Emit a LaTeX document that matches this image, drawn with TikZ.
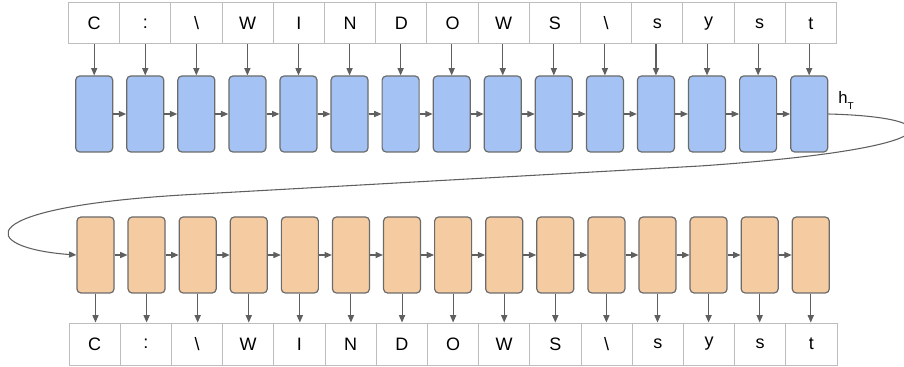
\documentclass[tikz,border=0pt]{standalone}
\usepackage{fontspec}
\setmainfont{Liberation Sans}
\usetikzlibrary{arrows.meta}
\definecolor{bluefill}{HTML}{A4C2F4}
\definecolor{orangefill}{HTML}{F5CCA2}
\definecolor{boxline}{HTML}{6B6B6B}
\definecolor{cellline}{HTML}{BDBDBD}
\definecolor{arrowcol}{HTML}{5F5F5F}
\tikzset{
  cell/.style={draw=cellline, line width=0.75pt, minimum width=38.4pt, minimum height=30.75pt, inner sep=0pt, font=\fontsize{13.5}{16}\selectfont},
  encbox/.style={draw=boxline, fill=bluefill, line width=0.9pt, rounded corners=3pt, minimum width=27.75pt, minimum height=57pt, inner sep=0pt},
  decbox/.style={encbox, fill=orangefill},
  arr/.style={draw=arrowcol, line width=0.8pt, -{Triangle[length=5.5pt,width=4.6pt]}, fill=arrowcol},
  conn/.style={draw=arrowcol, line width=0.8pt, -{Triangle[length=5.5pt,width=4.6pt,fill=arrowcol]}},
}
\begin{document}
\begin{tikzpicture}[x=0.75pt,y=-0.75pt]
\useasboundingbox (0,0) rectangle (904,367);
\foreach \c [count=\i] in {C,:,\textbackslash,W,I,N,D,O,W,S,\textbackslash,s,y,s,t}{
  \node[cell] (t\i) at ({42.9+51.2*\i},23.5) {\c};
  \node[cell, minimum height=31.5pt] (o\i) at ({43.4+51.2*\i},344) {\c};
  \node[encbox] (b\i) at ({43.13+51.07*\i},114) {};
  \node[decbox] (d\i) at ({44.41+51.09*\i},255) {};
  \draw[arr] (t\i.south -| b\i.north) -- (b\i.north);
  \draw[arr] (d\i.south) -- (d\i.south |- o\i.north);
}
\foreach \i [evaluate=\i as \j using {int(\i+1)}] in {1,...,14}{
  \draw[arr] (b\i.east) -- (b\j.west);
  \draw[arr] (d\i.east) -- (d\j.west);
}
\node[anchor=base west, inner sep=0pt, font=\fontsize{12.5}{14}\selectfont] (hT) at (838,104) {h\raisebox{-0.6ex}{\fontsize{7.5}{8}\selectfont T}};
\draw[conn] (b15.east) .. controls (950,117) and (960,148) .. (700,166)
  -- (200,194) .. controls (-36,206) and (-22,248) .. (d1.west);
\end{tikzpicture}
\end{document}
